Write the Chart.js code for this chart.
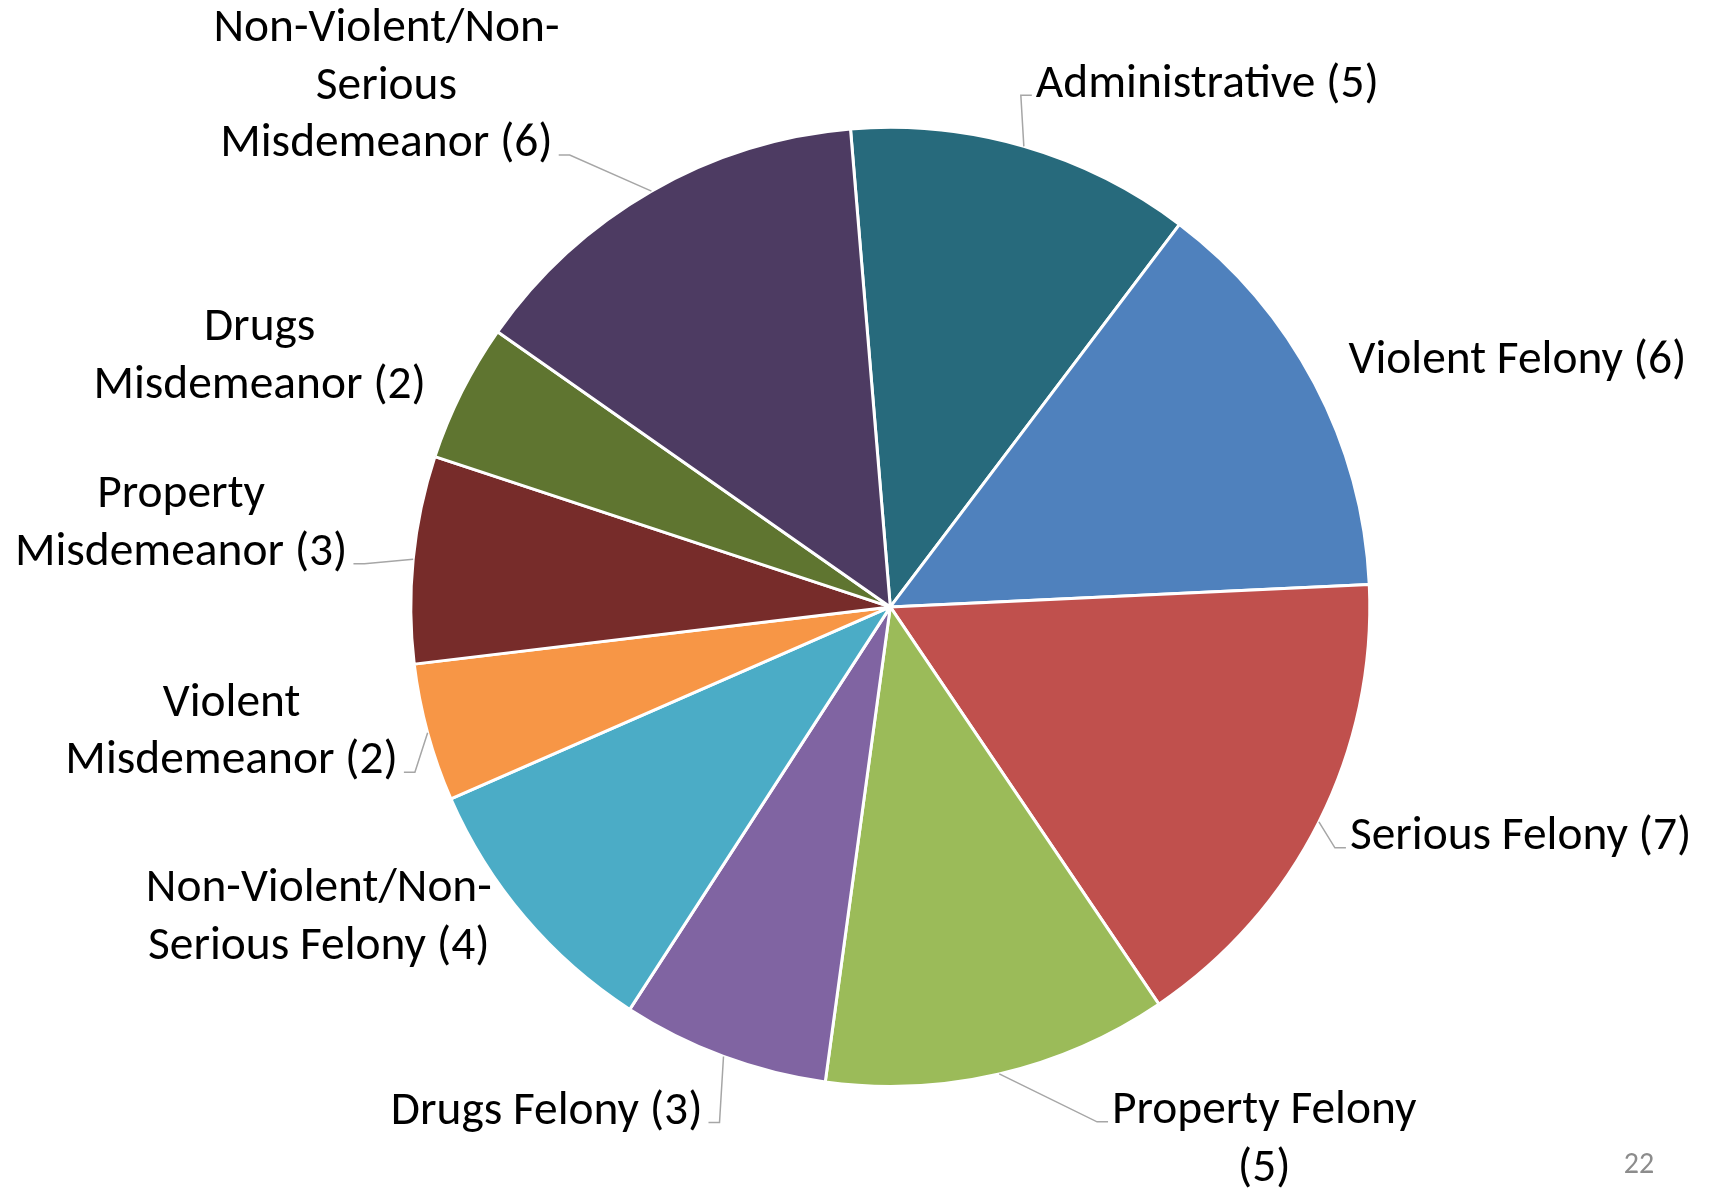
<!DOCTYPE html>
<html>
<head>
<meta charset="utf-8">
<title>Pie chart</title>
<script src="https://cdn.jsdelivr.net/npm/chart.js@4/dist/chart.umd.min.js"></script>
<style>
  html, body { margin: 0; padding: 0; background: #fff; }
  #pie-chart { display: block; }
</style>
</head>
<body>
<canvas id="pie-chart" width="1716" height="1191"></canvas>
<script>
const categories = ['Administrative', 'Violent Felony', 'Serious Felony', 'Property Felony', 'Drugs Felony',
    'Non-Violent/Non-Serious Felony', 'Violent Misdemeanor', 'Property Misdemeanor', 'Drugs Misdemeanor',
    'Non-Violent/Non-Serious Misdemeanor'];
const counts = [5, 6, 7, 5, 3, 4, 2, 3, 2, 6];
const sliceColors = ['#276A7C', '#4F81BD', '#C0504D', '#9BBB59', '#8064A2',
    '#4BACC6', '#F79646', '#772C2A', '#5F7530', '#4D3B62'];

// how each label wraps, the count goes on the last line
const labelLines = [
    ['Administrative'], ['Violent Felony'], ['Serious Felony'], ['Property Felony', ''], ['Drugs Felony'],
    ['Non-Violent/Non-', 'Serious Felony'], ['Violent', 'Misdemeanor'], ['Property', 'Misdemeanor'],
    ['Drugs', 'Misdemeanor'], ['Non-Violent/Non-', 'Serious', 'Misdemeanor']
];
// label spot, measured from the middle of each slice's outer edge
const labelPlace = [
    {dx: 12, dy: -65, align: 'left', leader: 0},
    {dx: 34, dy: -26, align: 'left'},
    {dx: 31, dy: 12, align: 'left', leader: 0},
    {dx: 265, dy: 34, align: 'center', leader: 0},
    {dx: -21, dy: 52, align: 'right', leader: 0},
    {dx: -206, dy: -31, align: 'center'},
    {dx: -196, dy: -32, align: 'center', leader: 1},
    {dx: -232, dy: -67, align: 'center', leader: 1},
    {dx: -202, dy: -67, align: 'center'},
    {dx: -265, dy: -165, align: 'center', leader: 2}
];

const fontFamily = 'Carlito, Calibri, Lato, sans-serif';
const lineHeight = 57.5;

const ctx = document.getElementById('pie-chart').getContext('2d');

// fit the font so the labels are as wide as in the slide
ctx.font = '47px ' + fontFamily;
const fontSize = 47 * 338 / ctx.measureText('Violent Felony (6)').width;

const pieLabels = {
    id: 'pieLabels',
    afterDatasetsDraw(chart) {
        const c = chart.ctx;
        const arcs = chart.getDatasetMeta(0).data;
        c.save();
        c.font = fontSize + 'px ' + fontFamily;
        c.textBaseline = 'alphabetic';
        arcs.forEach((arc, i) => {
            const p = arc.getProps(['x', 'y', 'startAngle', 'endAngle', 'outerRadius'], true);
            const mid = (p.startAngle + p.endAngle) / 2;
            const ex = p.x + Math.cos(mid) * p.outerRadius;
            const ey = p.y + Math.sin(mid) * p.outerRadius;
            const place = labelPlace[i];
            const lines = labelLines[i].slice();
            const last = lines.length - 1;
            lines[last] = (lines[last] ? lines[last] + ' ' : '') + '(' + counts[i] + ')';

            const ax = ex + place.dx;
            const ay = ey + place.dy;
            const base = fontSize * 0.32;
            c.fillStyle = '#000';
            c.textAlign = place.align;
            lines.forEach((t, k) => c.fillText(t, ax, ay + k * lineHeight + base));

            if (place.leader !== undefined) {
                const k = place.leader;
                const w = c.measureText(lines[k]).width;
                let left = ax - w / 2, right = ax + w / 2;
                if (place.align === 'left') { left = ax; right = ax + w; }
                if (place.align === 'right') { left = ax - w; right = ax; }
                const toRight = ax > ex;
                const yLine = ay + k * lineHeight + 14;
                const xEnd = toRight ? left - 4 : right + 6;
                const xElbow = toRight ? xEnd - 11 : xEnd + 11;
                c.strokeStyle = '#A6A6A6';
                c.lineWidth = 1.5;
                c.beginPath();
                c.moveTo(ex, ey);
                c.lineTo(xElbow, yLine);
                c.lineTo(xEnd, yLine);
                c.stroke();
            }
        });

        // slide number
        c.font = '30px ' + fontFamily;
        c.fillStyle = '#8C8C8C';
        c.textAlign = 'center';
        c.textBaseline = 'middle';
        c.fillText('22', chart.width - 77, chart.height - 26);
        c.restore();
    }
};

const myChart = new Chart(ctx, {
    type: 'pie',
    data: {
        labels: categories,
        datasets: [{
            data: counts,
            backgroundColor: sliceColors,
            borderColor: '#ffffff',
            borderWidth: 3
        }]
    },
    options: {
        responsive: false,
        animation: false,
        rotation: -4.76,
        radius: 479.5,
        layout: {
            padding: {left: 100, right: 35.4, top: 33.3, bottom: 10.5}
        },
        plugins: {
            legend: {display: false},
            tooltip: {enabled: false}
        }
    },
    plugins: [pieLabels]
});
</script>
</body>
</html>
